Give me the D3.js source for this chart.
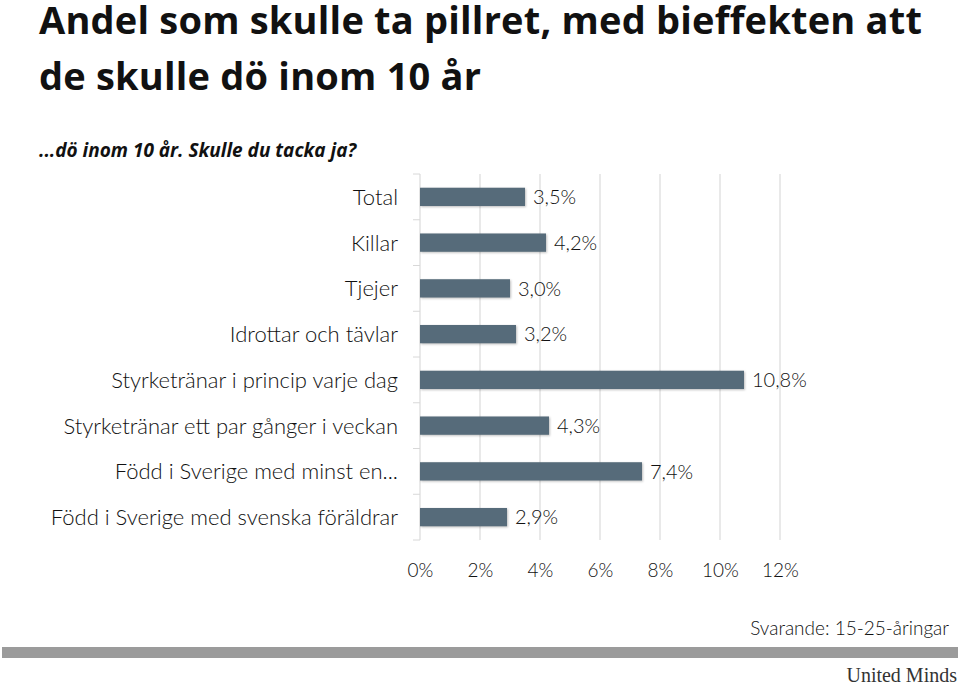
<!DOCTYPE html>
<html>
<head>
<meta charset="utf-8">
<script src="https://cdn.jsdelivr.net/npm/d3@7"></script>
<style>
  body { margin: 0; background: #fff; }
  svg { display: block; }
</style>
</head>
<body>
<svg id="chart"></svg>
<script>
const categories = [
  "Total",
  "Killar",
  "Tjejer",
  "Idrottar och tävlar",
  "Styrketränar i princip varje dag",
  "Styrketränar ett par gånger i veckan",
  "Född i Sverige med minst en...",
  "Född i Sverige med svenska föräldrar"
];
const values = [3.5, 4.2, 3.0, 3.2, 10.8, 4.3, 7.4, 2.9];
const xTicks = [0, 2, 4, 6, 8, 10, 12];

const width = 960, height = 685;
const margin = { top: 174, left: 420, right: 180, bottom: 145 };
const boundedWidth = width - margin.left - margin.right;
const boundedHeight = height - margin.top - margin.bottom;

const svg = d3.select("#chart").attr("width", width).attr("height", height);

// titles
svg.append("text")
  .attr("x", 39).attr("y", 34)
  .style("font", "bold 38px 'Open Sans', sans-serif")
  .style("letter-spacing", "0.2px")
  .attr("fill", "#111")
  .text("Andel som skulle ta pillret, med bieffekten att");
svg.append("text")
  .attr("x", 39).attr("y", 90)
  .style("font", "bold 38px 'Open Sans', sans-serif")
  .style("letter-spacing", "0.2px")
  .attr("fill", "#111")
  .text("de skulle dö inom 10 år");
svg.append("text")
  .attr("x", 39).attr("y", 157)
  .style("font", "italic bold 19px 'Open Sans', sans-serif")
  .attr("fill", "#111")
  .text("...dö inom 10 år. Skulle du tacka ja?");

const bounds = svg.append("g")
  .attr("transform", `translate(${margin.left},${margin.top})`);

const xScale = d3.scaleLinear().domain([0, 12]).range([0, 360]);
const yScale = d3.scaleBand().domain(categories).range([0, boundedHeight]).paddingInner(0.6).paddingOuter(0.3);

// grid
bounds.append("g")
  .selectAll("line")
  .data(xTicks)
  .join("line")
  .attr("x1", d => xScale(d)).attr("x2", d => xScale(d))
  .attr("y1", 0).attr("y2", boundedHeight)
  .attr("stroke", "#e2e2e2").attr("stroke-width", 1.5);

// y axis ticks at band boundaries
const step = yScale.step();
bounds.append("g")
  .selectAll("line")
  .data(d3.range(categories.length + 1))
  .join("line")
  .attr("x1", -7).attr("x2", 0)
  .attr("y1", i => i * step).attr("y2", i => i * step)
  .attr("stroke", "#d8d8d8");

// bars
bounds.append("g")
  .selectAll("rect")
  .data(values)
  .join("rect")
  .attr("x", xScale(0))
  .attr("y", (d, i) => yScale(categories[i]))
  .attr("width", d => xScale(d) - xScale(0))
  .attr("height", yScale.bandwidth())
  .attr("fill", "#566b7a")
  .style("filter", "drop-shadow(1px 1px 1px rgba(0,0,0,0.25))");

// value labels
bounds.append("g")
  .selectAll("text")
  .data(values)
  .join("text")
  .attr("x", d => xScale(d) + 8)
  .attr("y", (d, i) => yScale(categories[i]) + yScale.bandwidth() / 2)
  .attr("dy", "0.36em")
  .style("font", "300 20px Lato, 'Open Sans', sans-serif")
  .attr("fill", "#111")
  .text(d => d.toFixed(1).replace(".", ",") + "%");

// category labels
bounds.append("g")
  .selectAll("text")
  .data(categories)
  .join("text")
  .attr("x", -22)
  .attr("y", d => yScale(d) + yScale.bandwidth() / 2)
  .attr("dy", "0.36em")
  .attr("text-anchor", "end")
  .style("font", "300 22px Lato, 'Open Sans', sans-serif")
  .attr("fill", "#111")
  .text(d => d);

// x axis
const xAxis = bounds.append("g")
  .attr("transform", `translate(0,${boundedHeight})`)
  .call(d3.axisBottom(xScale).tickValues(xTicks).tickFormat(d => d + "%").tickSize(0).tickPadding(24));
xAxis.select(".domain").remove();
xAxis.selectAll("text")
  .style("font", "300 19px Lato, 'Open Sans', sans-serif")
  .attr("fill", "#111");

// footer
svg.append("text")
  .attr("x", 949).attr("y", 635)
  .attr("text-anchor", "end")
  .style("font", "300 19px Lato, 'Open Sans', sans-serif")
  .attr("fill", "#111")
  .text("Svarande: 15-25-åringar");
svg.append("rect")
  .attr("x", 2).attr("y", 647).attr("width", 956).attr("height", 11)
  .attr("fill", "#9b9b9b");
svg.append("text")
  .attr("x", 957).attr("y", 682)
  .attr("text-anchor", "end")
  .style("font", "20px 'Liberation Serif', serif")
  .attr("fill", "#333")
  .text("United Minds");
</script>
</body>
</html>
